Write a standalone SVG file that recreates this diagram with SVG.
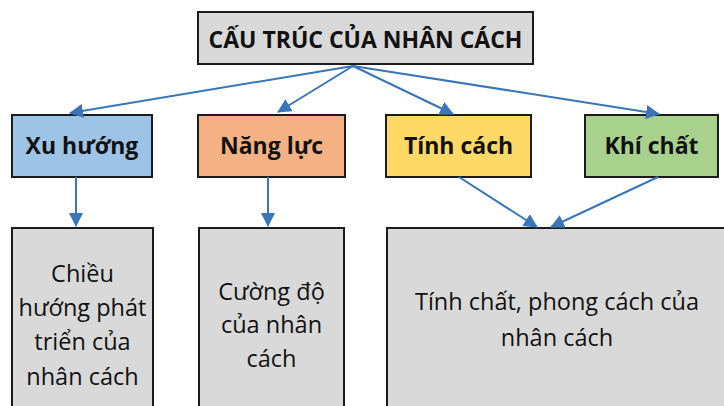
<svg xmlns="http://www.w3.org/2000/svg" width="724" height="406" viewBox="0 0 724 406">
<defs>
<marker id="ah" markerUnits="userSpaceOnUse" markerWidth="14" markerHeight="14" refX="13" refY="7" orient="auto">
<path d="M0,0 L14,7 L0,14 Z" fill="#3a75b8"/>
</marker>
<style>
.box{stroke:#1c1c1c;stroke-width:2}
.gray{fill:#d9d9d9}
.lbl{font-family:"Open Sans","Liberation Sans",sans-serif;font-weight:bold;font-size:23px;fill:#111;text-anchor:middle}
.txt{font-family:"Open Sans","Liberation Sans",sans-serif;font-size:23.5px;fill:#111;text-anchor:middle}
.con{stroke:#3a75b8;stroke-width:2;fill:none;marker-end:url(#ah)}
</style>
</defs>
<rect width="724" height="406" fill="#fff"/>
<g id="title">
<rect class="box gray" x="198" y="12" width="335" height="52" stroke-width="2.5"/>
<text class="lbl" x="365.5" y="48" font-size="23.5">CẤU TRÚC CỦA NHÂN CÁCH</text>
</g>
<g id="xuhuong">
<rect class="box" x="12" y="115" width="140" height="62" fill="#9dc3e6"/>
<text class="lbl" x="82" y="154">Xu hướng</text>
</g>
<g id="nangluc">
<rect class="box" x="198" y="115" width="147" height="62" fill="#f4b183"/>
<text class="lbl" x="271.5" y="154">Năng lực</text>
</g>
<g id="tinhcach">
<rect class="box" x="386" y="115" width="145" height="62" fill="#ffd966"/>
<text class="lbl" x="458.5" y="154">Tính cách</text>
</g>
<g id="khichat">
<rect class="box" x="585" y="115" width="133" height="62" fill="#a9d18e"/>
<text class="lbl" x="651.5" y="154">Khí chất</text>
</g>
<g id="chieuhuong">
<rect class="box gray" x="12" y="228" width="141" height="190"/>
<text class="txt" x="82.5" y="282">Chiều</text>
<text class="txt" x="82.5" y="316">hướng phát</text>
<text class="txt" x="82.5" y="350">triển của</text>
<text class="txt" x="82.5" y="385">nhân cách</text>
</g>
<g id="cuongdo">
<rect class="box gray" x="199" y="228" width="145" height="190"/>
<text class="txt" x="271.5" y="300">Cường độ</text>
<text class="txt" x="271.5" y="333">của nhân</text>
<text class="txt" x="271.5" y="367">cách</text>
</g>
<g id="tinhchat">
<rect class="box gray" x="387" y="228" width="345" height="190"/>
<text class="txt" x="557" y="310">Tính chất, phong cách của</text>
<text class="txt" x="557" y="346">nhân cách</text>
</g>
<g id="connectors">
<line class="con" x1="353" y1="66" x2="70" y2="113"/>
<line class="con" x1="353" y1="66" x2="278" y2="112"/>
<line class="con" x1="353" y1="66" x2="453" y2="114"/>
<line class="con" x1="353" y1="66" x2="659" y2="114"/>
<line class="con" x1="76" y1="177" x2="76" y2="226"/>
<line class="con" x1="268" y1="177" x2="268" y2="226"/>
<line class="con" x1="459" y1="177" x2="537" y2="227"/>
<line class="con" x1="658" y1="177" x2="551" y2="227"/>
</g>
</svg>
